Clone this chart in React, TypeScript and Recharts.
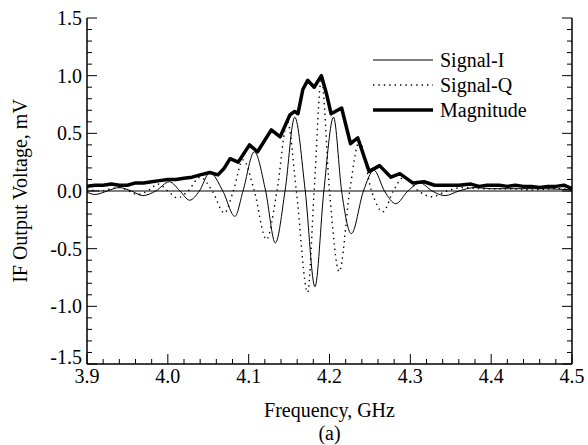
import { Legend, Line, LineChart, ReferenceLine, XAxis, YAxis } from "recharts";

// Frequency (GHz) / voltage (mV)
const freqI = [
  3.9, 3.91, 3.925, 3.94, 3.955, 3.969, 3.985, 4.002, 4.015, 4.027,
  4.039, 4.052, 4.068, 4.083, 4.093, 4.107, 4.121, 4.133, 4.145, 4.157,
  4.17, 4.182, 4.193, 4.205, 4.215, 4.227, 4.242, 4.255, 4.268, 4.282,
  4.297, 4.312, 4.327, 4.343, 4.36, 4.38, 4.4, 4.43, 4.46, 4.5
];
const signalI = [
  -0.01, -0.03, 0, 0.03, 0, -0.04, 0, 0.08, 0, -0.08,
  0, 0.16, 0, -0.22, 0, 0.34, 0, -0.45, 0, 0.64,
  0, -0.83, 0, 0.64, 0, -0.37, 0, 0.18, 0, -0.11,
  0, 0.07, 0, -0.04, 0, 0.03, 0.02, 0.02, 0.02, 0.01
];

const freqQ = [
  3.9, 3.915, 3.94, 3.952, 3.962, 3.975, 3.988, 4.0, 4.012, 4.025,
  4.04, 4.055, 4.07, 4.081, 4.093, 4.107, 4.122, 4.135, 4.148, 4.159,
  4.173, 4.181, 4.19, 4.2, 4.212, 4.225, 4.237, 4.252, 4.266, 4.279,
  4.292, 4.31, 4.327, 4.345, 4.365, 4.39, 4.42, 4.45, 4.48, 4.5
];
const signalQ = [
  0.02, 0, 0.03, 0, -0.03, 0, 0.06, 0, -0.06, 0,
  0.12, 0, -0.19, 0, 0.27, 0, -0.42, 0, 0.6, 0,
  -0.88, 0, 0.97, 0, -0.7, 0, 0.43, 0, -0.18, 0,
  0.12, 0, -0.05, 0, 0.03, 0.02, 0.02, 0.01, 0.02, 0.01
];

const freqMag = [
  3.9, 3.91, 3.92, 3.93, 3.94, 3.95, 3.96, 3.97, 3.98, 3.99,
  4.0, 4.01, 4.02, 4.03, 4.04, 4.052, 4.062, 4.07, 4.077, 4.087,
  4.101, 4.111, 4.128, 4.139, 4.151, 4.157, 4.161, 4.167, 4.173, 4.181,
  4.19, 4.196, 4.202, 4.215, 4.226, 4.235, 4.249, 4.262, 4.276, 4.287,
  4.303, 4.317, 4.33, 4.345, 4.36, 4.375, 4.385, 4.395, 4.41, 4.42,
  4.43, 4.44, 4.45, 4.46, 4.47, 4.48, 4.49, 4.5
];
const magnitude = [
  0.04, 0.05, 0.05, 0.06, 0.05, 0.05, 0.07, 0.07, 0.08, 0.09,
  0.1, 0.1, 0.11, 0.12, 0.14, 0.16, 0.14, 0.2, 0.28, 0.25,
  0.4, 0.34, 0.53, 0.47, 0.66, 0.69, 0.67, 0.88, 0.96, 0.9,
  1.0, 0.85, 0.67, 0.72, 0.41, 0.46, 0.17, 0.22, 0.12, 0.15,
  0.07, 0.08, 0.05, 0.05, 0.05, 0.06, 0.04, 0.05, 0.05, 0.04,
  0.05, 0.04, 0.04, 0.03, 0.04, 0.04, 0.05, 0.02
];

const xMajor = [3.9, 4.0, 4.1, 4.2, 4.3, 4.4, 4.5];
const yMajor = [-1.5, -1.0, -0.5, 0.0, 0.5, 1.0, 1.5];

const seriesNames = ["Signal-I", "Signal-Q", "Magnitude"];

// minor ticks: 5 per 0.1 GHz, 5 per 0.5 mV
const xTicks: number[] = [];
for (let i = 0; i <= 30; i++) xTicks.push(Math.round((3.9 + i * 0.02) * 1000) / 1000);
const yTicks: number[] = [];
for (let i = 0; i <= 30; i++) yTicks.push(Math.round((-1.5 + i * 0.1) * 1000) / 1000);

const isMajor = (list: number[], v: number) => list.some((m) => Math.abs(m - v) < 1e-6);

const toRows = (xs: number[], ys: number[]) => xs.map((f, i) => ({ f, v: ys[i] }));
const iData = toRows(freqI, signalI);
const qData = toRows(freqQ, signalQ);
const magData = toRows(freqMag, magnitude);

const FONT = "'Liberation Serif', 'Times New Roman', serif";
const MAJOR = 10;
const MINOR = 5;

function BottomTick({ x, y, payload }: any) {
  const major = isMajor(xMajor, payload.value);
  return (
    <g>
      <line x1={x} x2={x} y1={y} y2={y - (major ? MAJOR : MINOR)} stroke="#000" strokeWidth={1} />
      {major ? (
        <text x={x} y={y + 19} textAnchor="middle" fontFamily={FONT} fontSize={20} fill="#000">
          {payload.value.toFixed(1)}
        </text>
      ) : null}
    </g>
  );
}

function TopTick({ x, y, payload }: any) {
  const major = isMajor(xMajor, payload.value);
  return <line x1={x} x2={x} y1={y} y2={y + (major ? MAJOR : MINOR)} stroke="#000" strokeWidth={1} />;
}

function LeftTick({ x, y, payload }: any) {
  const major = isMajor(yMajor, payload.value);
  // the bottom label sits a little higher, clear of the 3.9 label
  const lift = payload.value <= yMajor[0] + 1e-6 ? 7 : 0;
  return (
    <g>
      <line x1={x} x2={x + (major ? MAJOR : MINOR)} y1={y} y2={y} stroke="#000" strokeWidth={1} />
      {major ? (
        <text x={x - 5} y={y + 7 - lift} textAnchor="end" fontFamily={FONT} fontSize={20} fill="#000">
          {payload.value.toFixed(1)}
        </text>
      ) : null}
    </g>
  );
}

function RightTick({ x, y, payload }: any) {
  const major = isMajor(yMajor, payload.value);
  return <line x1={x} x2={x - (major ? MAJOR : MINOR)} y1={y} y2={y} stroke="#000" strokeWidth={1} />;
}

function XTitle({ viewBox }: any) {
  const cx = viewBox.x + viewBox.width / 2;
  return (
    <g fontFamily={FONT} fontSize={20} fill="#000">
      <text x={cx} y={viewBox.y + 53} textAnchor="middle">Frequency, GHz</text>
      <text x={cx} y={viewBox.y + 76} textAnchor="middle">(a)</text>
    </g>
  );
}

function YTitle({ viewBox }: any) {
  const cy = viewBox.y + viewBox.height / 2;
  return (
    <text
      x={27}
      y={cy}
      transform={`rotate(-90, 27, ${cy})`}
      textAnchor="middle"
      fontFamily={FONT}
      fontSize={20}
      fill="#000"
    >
      IF Output Voltage, mV
    </text>
  );
}

const legendStyles = [
  { strokeWidth: 1, dash: undefined },
  { strokeWidth: 1.4, dash: "1.4 4" },
  { strokeWidth: 3.5, dash: undefined }
];

function LegendBox() {
  return (
    <svg width={200} height={80} style={{ display: "block" }}>
      {seriesNames.map((name, i) => (
        <g key={name}>
          <line
            x1={3}
            x2={63}
            y1={12 + i * 25}
            y2={12 + i * 25}
            stroke="#000"
            strokeWidth={legendStyles[i].strokeWidth}
            strokeDasharray={legendStyles[i].dash}
          />
          <text x={70} y={19 + i * 25} fontFamily={FONT} fontSize={20} fill="#000">
            {name}
          </text>
        </g>
      ))}
    </svg>
  );
}

export default function App() {
  return (
    <div style={{ position: "absolute", left: 0, top: 0, width: 588, height: 445, background: "#fff" }}>
      <LineChart width={588} height={445} margin={{ top: 18, right: 0, bottom: 0, left: 0 }}>
        <XAxis
          xAxisId="b"
          dataKey="f"
          type="number"
          domain={[3.9, 4.5]}
          allowDataOverflow
          ticks={xTicks}
          interval={0}
          tickLine={false}
          tickSize={0}
          tickMargin={0}
          height={81}
          axisLine={{ stroke: "#000", strokeWidth: 1.5 }}
          tick={(p: any) => <BottomTick {...p} />}
          label={<XTitle />}
        />
        <XAxis
          xAxisId="t"
          orientation="top"
          dataKey="f"
          type="number"
          domain={[3.9, 4.5]}
          allowDataOverflow
          ticks={xTicks}
          interval={0}
          tickLine={false}
          tickSize={0}
          tickMargin={0}
          height={0}
          axisLine={{ stroke: "#000", strokeWidth: 1.5 }}
          tick={(p: any) => <TopTick {...p} />}
        />
        <YAxis
          yAxisId="l"
          type="number"
          domain={[-1.5, 1.5]}
          allowDataOverflow
          ticks={yTicks}
          interval={0}
          tickLine={false}
          tickSize={0}
          tickMargin={0}
          width={87}
          axisLine={{ stroke: "#000", strokeWidth: 1.5 }}
          tick={(p: any) => <LeftTick {...p} />}
          label={<YTitle />}
        />
        <YAxis
          yAxisId="r"
          orientation="right"
          type="number"
          domain={[-1.5, 1.5]}
          allowDataOverflow
          ticks={yTicks}
          interval={0}
          tickLine={false}
          tickSize={0}
          tickMargin={0}
          width={16}
          axisLine={{ stroke: "#000", strokeWidth: 1.5 }}
          tick={(p: any) => <RightTick {...p} />}
        />
        <ReferenceLine xAxisId="b" yAxisId="l" y={0} stroke="#000" strokeWidth={1.2} />
        <Line
          xAxisId="b"
          yAxisId="l"
          data={iData}
          dataKey="v"
          name={seriesNames[0]}
          type="monotone"
          stroke="#000"
          strokeWidth={1}
          dot={false}
          isAnimationActive={false}
        />
        <Line
          xAxisId="b"
          yAxisId="l"
          data={qData}
          dataKey="v"
          name={seriesNames[1]}
          type="monotone"
          stroke="#000"
          strokeWidth={1.4}
          strokeDasharray="1.4 4"
          dot={false}
          isAnimationActive={false}
        />
        <Line
          xAxisId="b"
          yAxisId="l"
          data={magData}
          dataKey="v"
          name={seriesNames[2]}
          type="linear"
          stroke="#000"
          strokeWidth={3.5}
          strokeLinejoin="round"
          dot={false}
          isAnimationActive={false}
        />
        <Legend
          layout="vertical"
          align="center"
          verticalAlign="middle"
          wrapperStyle={{ left: 370, top: 48, width: 200 }}
          content={() => <LegendBox />}
        />
      </LineChart>
    </div>
  );
}
